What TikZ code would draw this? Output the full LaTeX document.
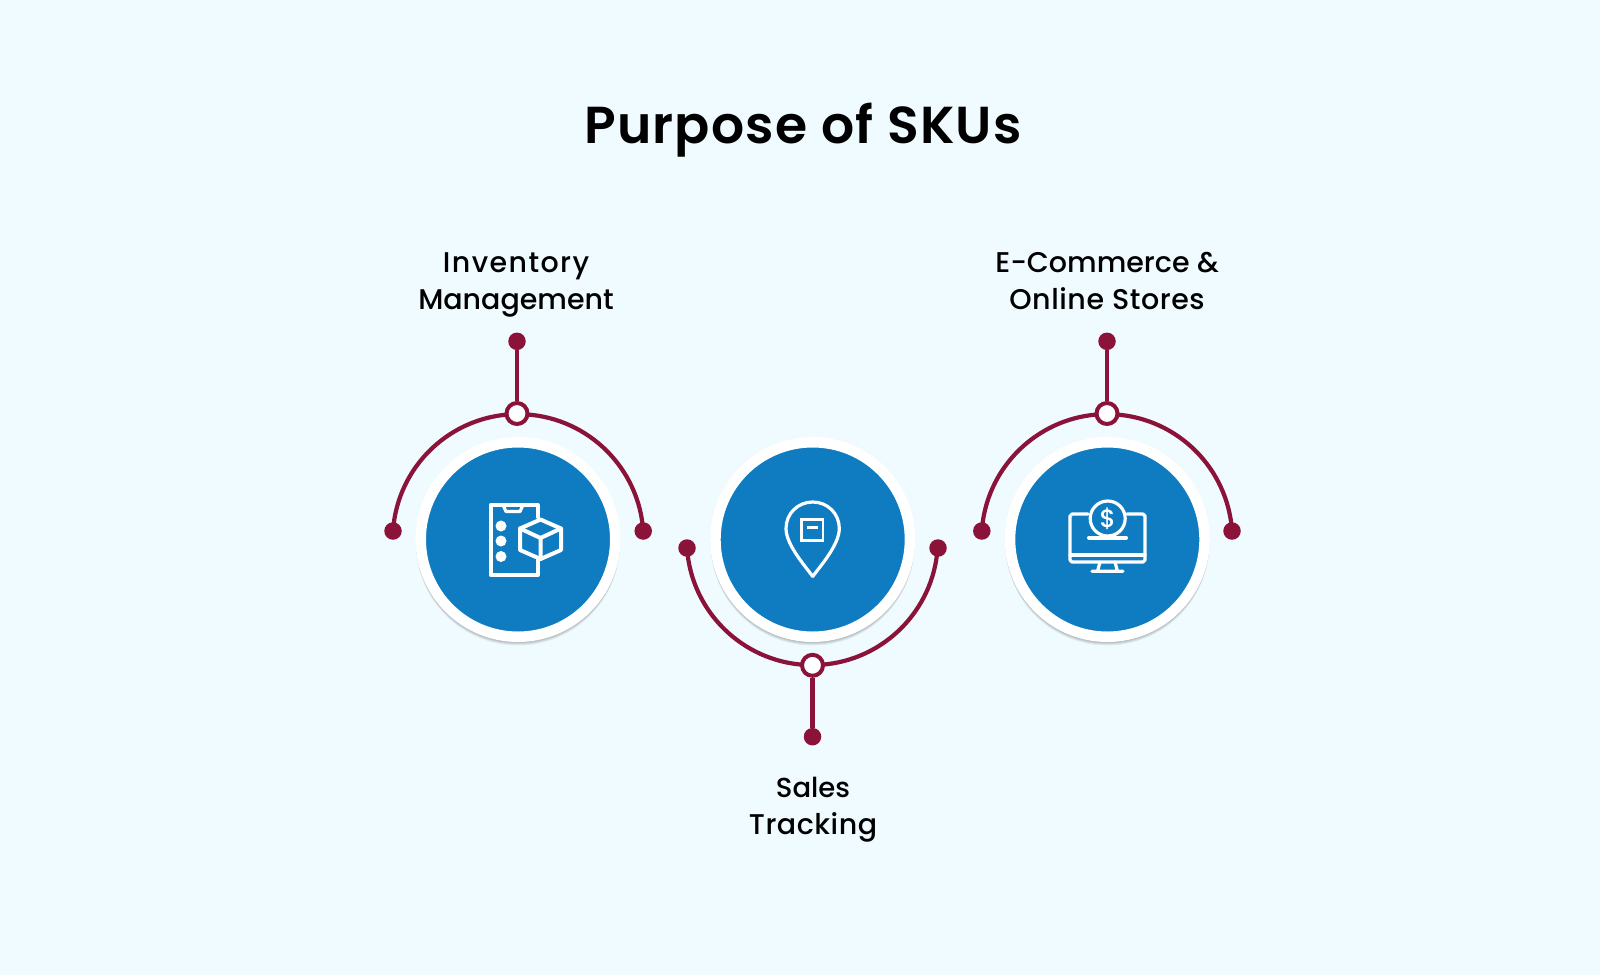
\documentclass[tikz,border=0pt]{standalone}
\usepackage{fontspec}
\setmainfont{Poppins}
\newfontfamily\titlefont{Poppins SemiBold}[LetterSpace=2.4]
\newfontfamily\labelfont{Poppins Medium}
\definecolor{bgc}{HTML}{EFFBFF}
\definecolor{bluec}{HTML}{0F7BC0}
\definecolor{maroonc}{HTML}{8B1238}
\tikzset{
  disc/.style={circle,draw=white,line width=10.5pt,fill=bluec,minimum size=194.5pt,inner sep=0pt},
  enddot/.style={circle,fill=maroonc,minimum size=17.5pt,inner sep=0pt},
  hub/.style={circle,draw=maroonc,line width=4pt,fill=white,minimum size=21pt,inner sep=0pt},
  conn/.style={draw=maroonc,line width=4.2pt},
  ico/.style={draw=white,line width=4pt,line join=round,line cap=round},
  icothin/.style={draw=white,line width=3.2pt,line join=round,line cap=round},
  lab/.style={font=\labelfont\fontsize{28.5}{37}\selectfont,align=center,text=black,inner sep=0pt,anchor=base},
}
\newcommand{\softshadow}[2]{%
  \foreach \k/\o in {4/0.06,3/0.07,2/0.08,1/0.09}{
    \fill[black,opacity=\o] (#1,#2+\k) circle[radius=102pt];
  }%
}
\begin{document}
\begin{tikzpicture}[x=1pt,y=1pt,yscale=-1]
\useasboundingbox[fill=bgc] (0,0) rectangle (1600,975);

\node[font=\titlefont\fontsize{52}{60}\selectfont,text=black,inner sep=0pt,anchor=base] (title) at (803,143) {Purpose of SKUs};

% shadows
\softshadow{518}{539.5}
\softshadow{812.7}{539.5}
\softshadow{1107.3}{539.5}

% discs
\node[disc] (d1) at (518,539.5) {};
\node[disc] (d2) at (812.7,539.5) {};
\node[disc] (d3) at (1107.3,539.5) {};

% connectors and arcs, group 1
\node[enddot] (l1) at (393,531) {};
\node[enddot] (r1) at (643.2,531) {};
\node[enddot] (t1) at (517,341.3) {};
\draw[conn] (l1.center) arc[start angle=183.9,end angle=356.1,radius=125.4pt];
\node[hub] (h1) at (517,413.5) {};
\draw[conn] (t1) -- (h1);

% group 2
\node[enddot] (l2) at (687,548) {};
\node[enddot] (r2) at (938,548) {};
\node[enddot] (t2) at (812.5,736.7) {};
\draw[conn] (l2.center) arc[start angle=176.1,end angle=3.9,radius=125.6pt];
\node[hub] (h2) at (812.5,665.3) {};
\draw[conn] (t2) -- (h2);

% group 3
\node[enddot] (l3) at (981.8,531) {};
\node[enddot] (r3) at (1232,531) {};
\node[enddot] (t3) at (1107,341.3) {};
\draw[conn] (l3.center) arc[start angle=183.9,end angle=356.1,radius=125.4pt];
\node[hub] (h3) at (1107,413.5) {};
\draw[conn] (t3) -- (h3);

% labels
\node[lab] (a1) at (516,272) {\addfontfeature{LetterSpace=5}Inventory};
\node[lab] (a2) at (516,309) {Management};
\node[lab] (b1) at (813,797) {\fontsize{27.5}{37}\selectfont Sales};
\node[lab] (b2) at (813,834) {\addfontfeature{LetterSpace=1.8}Tracking};
\node[lab] (c1) at (1107,272) {E-Commerce \&};
\node[lab] (c2) at (1107,309) {\addfontfeature{LetterSpace=2}Online Stores};

% phone + cube icon
\draw[ico] (537.5,517) -- (537.5,505) -- (490.5,505) -- (490.5,575) -- (537.5,575) -- (537.5,560);
\draw[icothin] (503,505) -- (506,511.5) -- (520,511.5) -- (523,505);
\fill[white] (501,526) circle[radius=5.5pt] (501,541) circle[radius=5.5pt] (501,556.5) circle[radius=5.5pt];
\draw[ico] (540.5,519.5) -- (561,528.5) -- (561,550) -- (540.5,559) -- (520,550) -- (520,528.5) -- cycle;
\draw[ico] (520,528.5) -- (540.5,538) -- (561,528.5) (540.5,538) -- (540.5,559);

% pin icon
\draw[icothin] (812.7,576.5) .. controls (806,567) and (786,545) .. (786,528.5)
  .. controls (786,513.5) and (798,502) .. (812.7,502)
  .. controls (827.5,502) and (839.3,513.5) .. (839.3,528.5)
  .. controls (839.3,545) and (819.5,567) .. (812.7,576.5);
\draw[white,line width=2.8pt] (801.5,519.5) rectangle (823,540.5);
\draw[white,line width=2.8pt] (807.3,527.7) -- (817.5,527.7);

% monitor icon
\draw[icothin] (1088,514) -- (1072,514) -- (1070,516) -- (1070,560) -- (1072,562) -- (1143,562) -- (1145,560) -- (1145,516) -- (1143,514) -- (1127,514);
\draw[icothin] (1070,555) -- (1145,555);
\draw[icothin] (1107.7,518.5) circle[radius=17.5pt];
\draw[ico] (1089,537.7) -- (1126,537.7);
\draw[icothin] (1100,562) -- (1097.5,571.3) (1115,562) -- (1117.5,571.3) (1092,571.3) -- (1123,571.3);
\node[font=\labelfont\fontsize{25}{25}\selectfont,text=white,inner sep=0pt] (dollar) at (1107.7,519) {\$};
\end{tikzpicture}
\end{document}
